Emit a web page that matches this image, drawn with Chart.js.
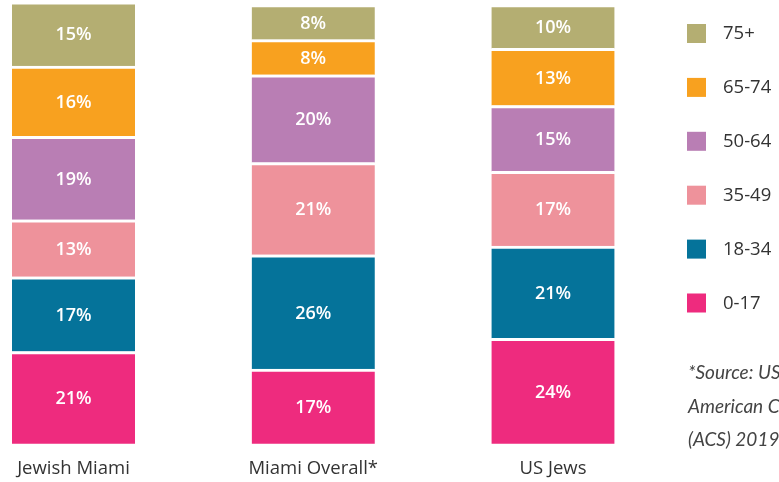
<!DOCTYPE html>
<html>
<head>
<meta charset="utf-8">
<script src="https://cdn.jsdelivr.net/npm/chart.js@4.4.1/dist/chart.umd.min.js"></script>
<style>
  html, body { margin: 0; padding: 0; background: #fff; }
  #wrap { position: relative; width: 779px; height: 482px; }
</style>
</head>
<body>
<div id="wrap"><canvas id="ages" width="779" height="482"></canvas></div>
<script>
// age distribution, % of population
const categories = ['Jewish Miami', 'Miami Overall*', 'US Jews'];
const share0to17 = [21, 17, 24];
const share18to34 = [17, 26, 21];
const share35to49 = [13, 21, 17];
const share50to64 = [19, 20, 15];
const share65to74 = [16, 8, 13];
const share75plus = [15, 8, 10];
const sourceNote = ['*Source: US Census Bureau,', 'American Community Survey', '(ACS) 2019-2023'];

// percentages written inside each segment
const valueLabels = {
    id: 'valueLabels',
    afterDatasetsDraw(chart) {
        const ctx = chart.ctx;
        const top = chart.chartArea.top;
        ctx.save();
        ctx.font = '600 18px "Open Sans"';
        ctx.fillStyle = '#fff';
        ctx.textAlign = 'center';
        ctx.textBaseline = 'middle';
        chart.data.datasets.forEach((ds, i) => {
            chart.getDatasetMeta(i).data.forEach((bar, j) => {
                const y0 = Math.max(bar.y + 3, top); // 3px white gap on top
                ctx.fillText(ds.data[j] + '%', bar.x, (y0 + bar.base) / 2);
            });
        });
        ctx.restore();
    }
};

// legend column + source note on the right
const sideLegend = {
    id: 'sideLegend',
    afterDraw(chart) {
        const ctx = chart.ctx;
        ctx.save();
        ctx.textBaseline = 'middle';
        ctx.textAlign = 'left';
        ctx.font = '18.5px "Open Sans"';
        chart.data.datasets.slice().reverse().forEach((ds, k) => {
            const y = 24 + k * 53.9;
            ctx.fillStyle = ds.backgroundColor;
            ctx.fillRect(687, y, 19, 19);
            ctx.fillStyle = '#333';
            ctx.fillText(ds.label, 723, y + 10);
        });
        ctx.font = 'italic 19px Lato';
        ctx.fillStyle = '#444';
        sourceNote.forEach((line, k) => ctx.fillText(line, 688, 373 + k * 33.5));
        ctx.restore();
    }
};

function segment(label, data, color) {
    return {
        label: label,
        data: data,
        backgroundColor: color,
        borderColor: '#fff',
        borderWidth: { top: 3, bottom: 0, left: 0, right: 0 },
        borderSkipped: false,
        barThickness: 123,
        clip: { left: false, right: false, top: 0, bottom: false }
    };
}

new Chart(document.getElementById('ages').getContext('2d'), {
    type: 'bar',
    data: {
        labels: categories,
        datasets: [
            segment('0-17', share0to17, '#ee2b7e'),
            segment('18-34', share18to34, '#05739a'),
            segment('35-49', share35to49, '#ee929b'),
            segment('50-64', share50to64, '#b97eb4'),
            segment('65-74', share65to74, '#f8a11f'),
            segment('75+', share75plus, '#b4ae72')
        ]
    },
    options: {
        responsive: false,
        animation: false,
        devicePixelRatio: 1,
        layout: { padding: { left: 73.5, right: 226, top: 4.5, bottom: 4.3 } },
        scales: {
            x: {
                stacked: true,
                offset: false,
                grid: { display: false, drawTicks: false },
                border: { display: false },
                ticks: { color: '#333', font: { family: 'Open Sans', size: 18.5 }, padding: 14, maxRotation: 0 },
                afterFit(scale) { scale.height = 34; }
            },
            y: { stacked: true, display: false, min: 0, max: 100 }
        },
        plugins: { legend: { display: false }, tooltip: { enabled: false } }
    },
    plugins: [valueLabels, sideLegend]
});
</script>
</body>
</html>
